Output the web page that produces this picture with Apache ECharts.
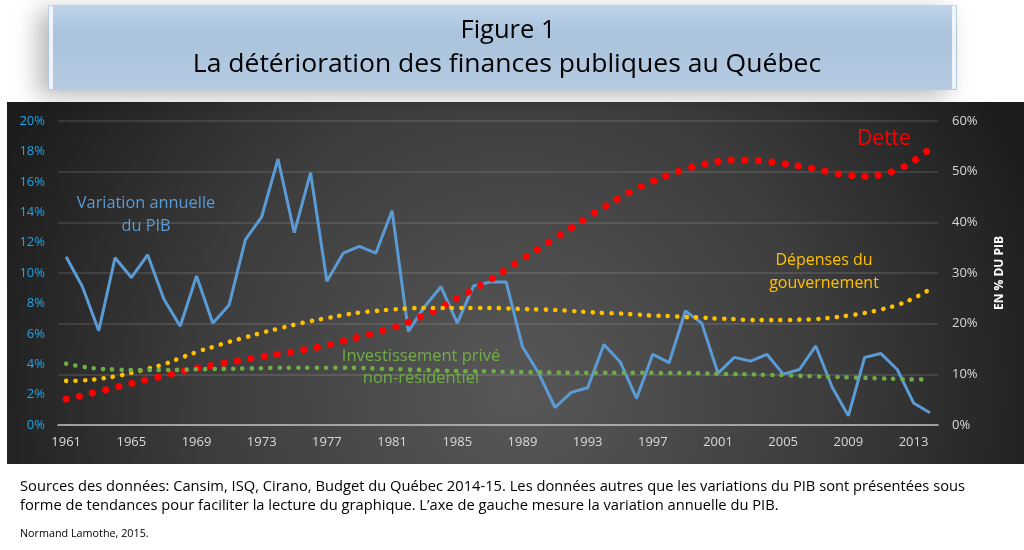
<!DOCTYPE html>
<html>
<head>
<meta charset="utf-8">
<script src="https://cdn.jsdelivr.net/npm/echarts@6/dist/echarts.min.js"></script>
<style>
html,body{margin:0;padding:0;background:#fff;}
#c{width:1024px;height:550px;}
</style>
</head>
<body>
<div id="c"></div>
<script>
var years = [];
for (var y = 1961; y <= 2014; y++) years.push(String(y));

var pib = [11.07, 9.1, 6.2, 11.0, 9.7, 11.2, 8.27, 6.5, 9.8, 6.7,
  7.9, 12.2, 13.7, 17.5, 12.65, 16.6, 9.45, 11.3, 11.75, 11.3,
  14.1, 6.15, 7.8, 9.1, 6.7, 9.15, 9.4, 9.4, 5.15, 3.4,
  1.15, 2.15, 2.45, 5.3, 4.15, 1.75, 4.65, 4.1, 7.5, 6.7,
  3.4, 4.45, 4.2, 4.65, 3.35, 3.65, 5.2, 2.5, 0.6, 4.45,
  4.7, 3.65, 1.45, 0.8];

var dette = [5.1, 5.8, 6.6, 7.4, 8.2, 9.0, 9.7, 10.5, 11.2, 11.8,
  12.4, 12.9, 13.5, 14.0, 14.5, 15.1, 15.7, 16.6, 17.4, 18.2,
  19.2, 20.3, 21.7, 23.2, 25.0, 26.8, 28.6, 30.7, 32.8, 34.8,
  36.9, 38.9, 41.0, 43.0, 44.9, 46.6, 48.1, 49.4, 50.5, 51.4,
  52.0, 52.3, 52.3, 52.0, 51.6, 51.1, 50.5, 49.8, 49.3, 49.1,
  49.4, 50.4, 52.1, 54.5];

var depenses = [8.7, 8.8, 9.1, 9.6, 10.3, 11.1, 12.0, 13.2, 14.4, 15.4,
  16.4, 17.3, 18.2, 19.0, 19.8, 20.5, 21.1, 21.7, 22.2, 22.5,
  22.8, 23.0, 23.1, 23.1, 23.1, 23.1, 23.1, 23.0, 22.9, 22.8,
  22.7, 22.5, 22.3, 22.1, 22.0, 21.8, 21.6, 21.5, 21.3, 21.2,
  21.0, 20.9, 20.7, 20.7, 20.7, 20.8, 20.9, 21.2, 21.6, 22.1,
  22.8, 23.7, 25.0, 26.8];

var investissement = [12.1, 11.5, 11.1, 10.95, 10.85, 10.85, 10.85, 10.9, 11.0, 11.05,
  11.1, 11.15, 11.2, 11.3, 11.3, 11.3, 11.3, 11.3, 11.25, 11.15,
  11.05, 10.95, 10.85, 10.75, 10.65, 10.6, 10.6, 10.5, 10.45, 10.4,
  10.35, 10.3, 10.3, 10.3, 10.3, 10.3, 10.3, 10.25, 10.25, 10.2,
  10.1, 10.05, 10.0, 9.9, 9.85, 9.7, 9.6, 9.5, 9.4, 9.3,
  9.2, 9.1, 9.0, 9.0];

var titleLines = ['Figure 1', 'La détérioration des finances publiques au Québec'];
var sourceLines = [
  'Sources des données: Cansim, ISQ, Cirano, Budget du Québec 2014-15. Les données autres que les variations du PIB sont présentées sous',
  'forme de tendances pour faciliter la lecture du graphique. L\u2019axe de gauche mesure la variation annuelle du PIB.'
];
var author = 'Normand Lamothe, 2015.';

var FONT = '"Open Sans", "Noto Sans", sans-serif';

var chart = echarts.init(document.getElementById('c'), null, {renderer: 'canvas'});

function txt(text, x, y, size, color, opts) {
  opts = opts || {};
  return {
    type: 'text', z: opts.z != null ? opts.z : 100,
    x: x, y: y, scaleX: opts.sx || 1,
    style: {
      text: text, x: 0, y: 0, fill: color,
      font: (opts.weight || 'normal') + ' ' + size + 'px ' + FONT,
      textAlign: opts.align || 'center', textVerticalAlign: 'middle'
    }
  };
}

var option = {
  backgroundColor: '#ffffff',
  animation: false,
  grid: {left: 58, right: 86, top: 121, bottom: 125, containLabel: false},
  xAxis: {
    type: 'category', data: years, boundaryGap: true,
    axisLine: {lineStyle: {color: '#bfbfbf', width: 1.5}},
    axisTick: {interval: 3, length: 5, lineStyle: {color: '#bfbfbf', width: 1.5}},
    axisLabel: {interval: 3, color: '#d9d9d9', fontSize: 13, margin: 11, fontFamily: FONT},
    splitLine: {show: false}
  },
  yAxis: [
    {
      type: 'value', min: 0, max: 20, interval: 2, position: 'left',
      axisLabel: {formatter: '{value}%', color: '#1ea6ea', fontSize: 13, margin: 13, fontFamily: FONT},
      axisLine: {show: false}, axisTick: {show: false}, splitLine: {show: false}
    },
    {
      type: 'value', min: 0, max: 60, interval: 10, position: 'right',
      name: 'EN % DU PIB', nameLocation: 'middle', nameRotate: 90, nameGap: 56,
      nameTextStyle: {color: '#ffffff', fontWeight: 'bold', fontSize: 12, fontFamily: FONT},
      axisLabel: {formatter: '{value}%', color: '#d9d9d9', fontSize: 13, margin: 14, fontFamily: FONT},
      axisLine: {show: false}, axisTick: {show: false},
      splitLine: {lineStyle: {color: 'rgba(255,255,255,0.14)', width: 1.5}}
    }
  ],
  series: [
    {
      name: 'PIB', type: 'line', yAxisIndex: 0, data: pib, symbol: 'none',
      lineStyle: {color: '#5b9bd5', width: 3}, z: 3
    },
    {
      name: 'Dette', type: 'line', yAxisIndex: 1, data: dette, symbol: 'none', smooth: true,
      lineStyle: {color: '#ff0000', width: 7, type: [0.1, 13.4], cap: 'round'}, z: 4
    },
    {
      name: 'Dépenses', type: 'line', yAxisIndex: 1, data: depenses, symbol: 'none', smooth: true,
      lineStyle: {color: '#ffc000', width: 4.6, type: [0.1, 9.3], cap: 'round'}, z: 4
    },
    {
      name: 'Investissement', type: 'line', yAxisIndex: 1, data: investissement, symbol: 'none', smooth: true,
      lineStyle: {color: '#70ad47', width: 4.6, type: [0.1, 9.2], cap: 'round'}, z: 4
    }
  ],
  graphic: {
    elements: [
      {
        type: 'rect', z: -100, silent: true,
        shape: {x: 7, y: 102, width: 1017, height: 362},
        style: {
          fill: {
            type: 'radial', x: 0.5, y: 0.8, r: 1.55,
            colorStops: [{offset: 0, color: '#585858'}, {offset: 0.55, color: '#3d3d3d'}, {offset: 1, color: '#1c1c1c'}]
          }
        }
      },
      {
        type: 'rect', z: -90, silent: true,
        shape: {x: 48, y: 5, width: 909, height: 85},
        style: {
          fill: {
            type: 'linear', x: 0, y: 0, x2: 0, y2: 1,
            colorStops: [{offset: 0, color: '#bdd4ea'}, {offset: 0.35, color: '#aac2db'}, {offset: 1, color: '#b4cbe2'}]
          },
          shadowBlur: 22, shadowColor: 'rgba(0,0,0,0.28)', shadowOffsetX: -10, shadowOffsetY: 6
        }
      },
      {
        type: 'rect', z: -80, silent: true,
        shape: {x: 49, y: 6, width: 4, height: 83},
        style: {fill: 'rgba(255,255,255,0.8)'}
      },
      {
        type: 'rect', z: -80, silent: true,
        shape: {x: 952, y: 6, width: 4, height: 83},
        style: {fill: 'rgba(255,255,255,0.8)'}
      },
      txt(titleLines[0], 508, 31, 26, '#000000', {sx: 0.98}),
      txt(titleLines[1], 507, 65, 26, '#000000', {sx: 1.02}),
      txt('Variation annuelle', 146, 203, 16, '#5b9bd5', {sx: 1.02}),
      txt('du PIB', 146, 226, 16, '#5b9bd5', {sx: 1.02}),
      txt('Dette', 884, 139, 21, '#ff0000', {sx: 1.0}),
      txt('Dépenses du', 824, 260, 16, '#ffc000', {sx: 1.0}),
      txt('gouvernement', 824, 283, 16, '#ffc000', {sx: 1.0}),
      txt('Investissement privé', 421, 356, 16, '#70ad47', {sx: 1.03}),
      txt('non-résidentiel', 421, 378, 16, '#70ad47', {sx: 1.03}),
      txt(sourceLines[0], 20, 487, 14, '#000000', {align: 'left', sx: 1.05}),
      txt(sourceLines[1], 20, 506, 14, '#000000', {align: 'left', sx: 1.05}),
      txt(author, 20, 534, 11, '#000000', {align: 'left', sx: 0.98})
    ]
  }
};
chart.setOption(option);
</script>
</body>
</html>
